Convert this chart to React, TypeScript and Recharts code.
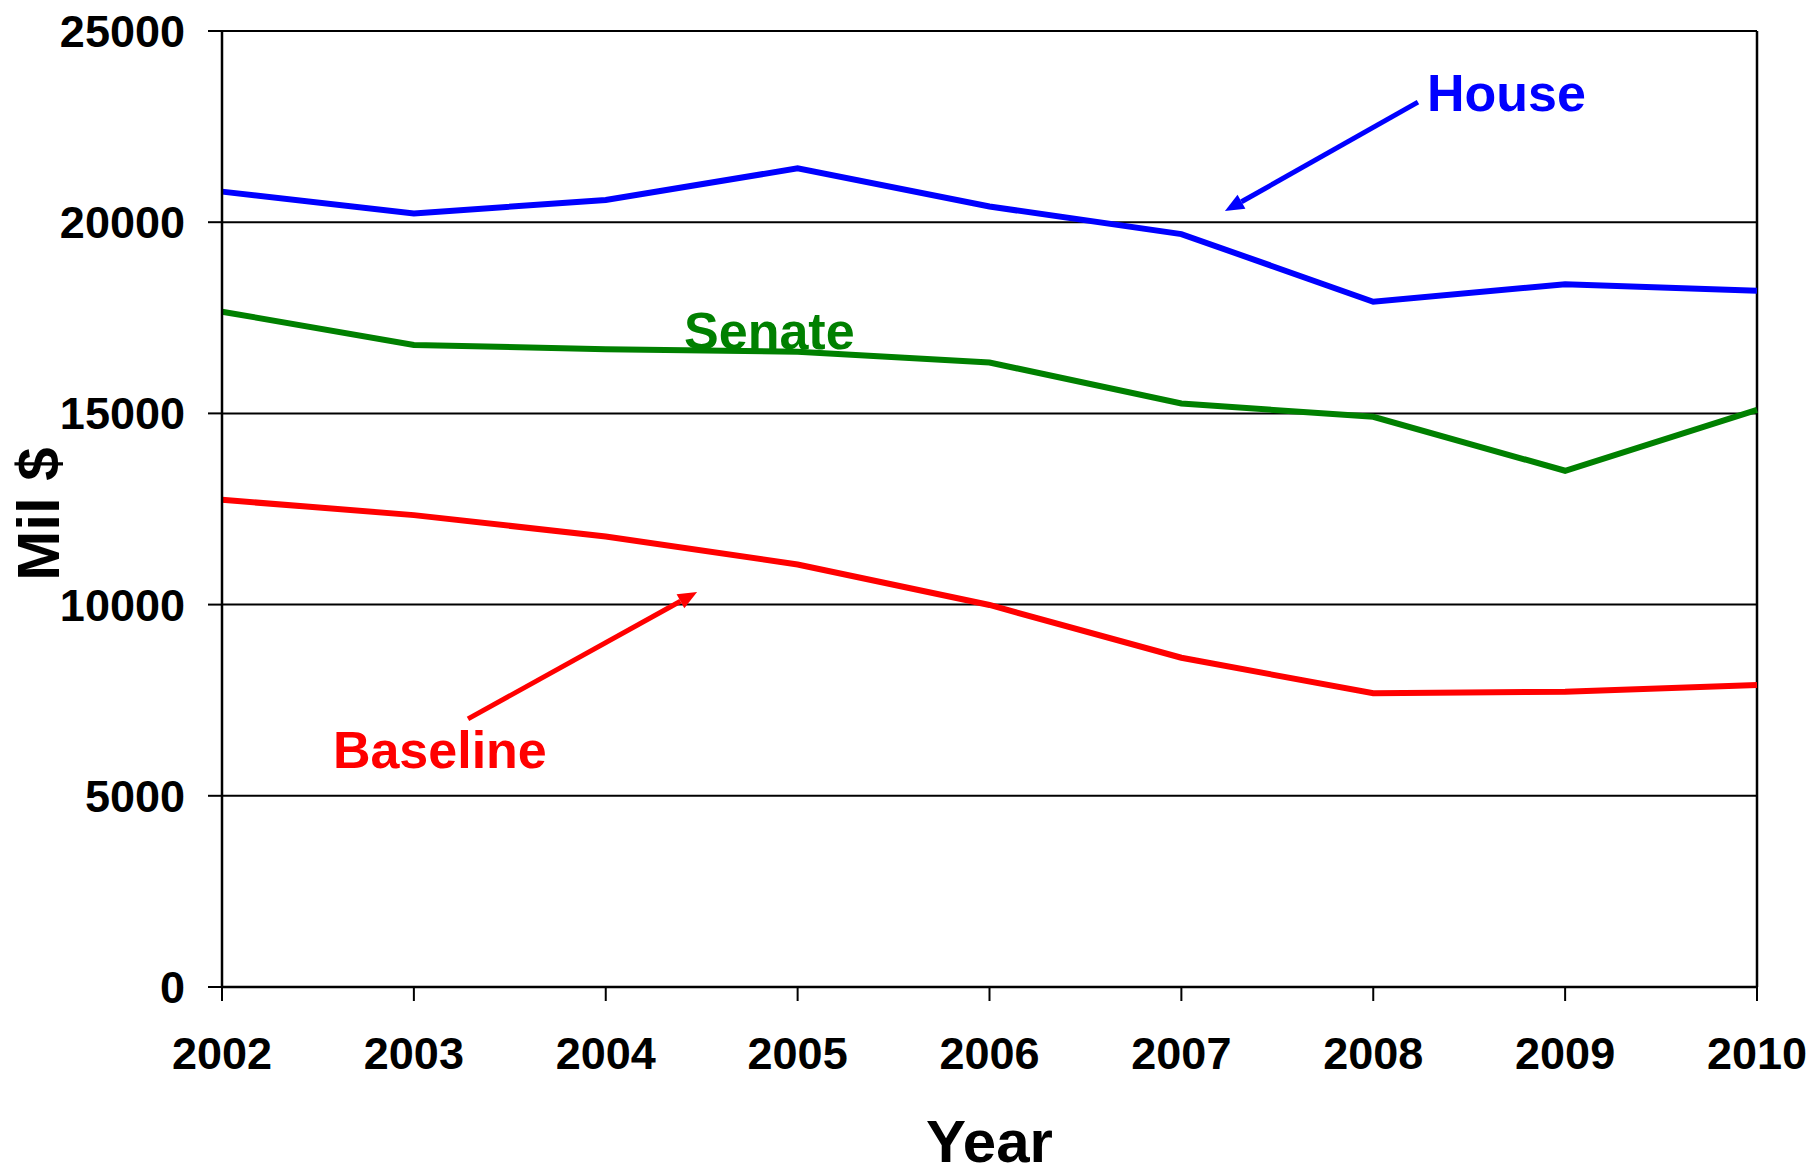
import React from "react";
import {
  CartesianGrid,
  Label,
  Line,
  LineChart,
  ReferenceDot,
  ReferenceLine,
  XAxis,
  YAxis,
} from "recharts";

const years = [2002, 2003, 2004, 2005, 2006, 2007, 2008, 2009, 2010];
const house = [20800, 20230, 20580, 21410, 20410, 19690, 17920, 18380, 18210];
const senate = [17660, 16790, 16680, 16610, 16330, 15260, 14910, 13500, 15090];
const baseline = [12740, 12340, 11780, 11050, 9990, 8610, 7680, 7720, 7900];
const yTicks = [0, 5000, 10000, 15000, 20000, 25000];

const FONT = "'Liberation Sans', Arial, Helvetica, sans-serif";
const BLUE = "#0000ff";
const GREEN = "#008000";
const RED = "#ff0000";

const data = years.map((year, i) => ({
  year,
  house: house[i],
  senate: senate[i],
  baseline: baseline[i],
}));

const tickStyle = { fontSize: 45, fontWeight: "bold", fill: "#000", fontFamily: FONT };

// arrow drawn between the two ends of a reference segment
const arrowShape = (color: string) => (props: any) => {
  const { x1, y1, x2, y2 } = props;
  if ([x1, y1, x2, y2].some((v) => typeof v !== "number")) return <g />;
  const ang = Math.atan2(y2 - y1, x2 - x1);
  const len = 19;
  const half = 8;
  const bx = x2 - len * Math.cos(ang);
  const by = y2 - len * Math.sin(ang);
  const px = -Math.sin(ang) * half;
  const py = Math.cos(ang) * half;
  return (
    <g>
      <line x1={x1} y1={y1} x2={bx} y2={by} stroke={color} strokeWidth={5} />
      <polygon
        points={`${x2},${y2} ${bx + px},${by + py} ${bx - px},${by - py}`}
        fill={color}
      />
    </g>
  );
};

const textShape = (text: string, color: string) => (props: any) => (
  <text
    x={props.cx}
    y={props.cy}
    fill={color}
    fontSize={52}
    fontWeight="bold"
    fontFamily={FONT}
    textAnchor="start"
  >
    {text}
  </text>
);

export default function App() {
  return (
    <div style={{ position: "absolute", left: 0, top: 0, width: 1814, height: 1176, background: "#fff" }}>
      <LineChart
        width={1814}
        height={1176}
        data={data}
        margin={{ top: 31, right: 57, bottom: 0, left: 0 }}
      >
        <CartesianGrid vertical={false} stroke="#000" strokeWidth={2} />
        <XAxis
          dataKey="year"
          type="number"
          domain={[2002, 2010]}
          ticks={years}
          interval={0}
          height={189}
          tickSize={14}
          tickMargin={36}
          tick={tickStyle}
          axisLine={{ stroke: "#000", strokeWidth: 2.5 }}
          tickLine={{ stroke: "#000", strokeWidth: 2 }}
        >
          <Label
            value="Year"
            position="insideBottom"
            offset={14}
            style={{ fontSize: 60, fontWeight: "bold", fill: "#000", fontFamily: FONT }}
          />
        </XAxis>
        <YAxis
          domain={[0, 25000]}
          ticks={yTicks}
          interval={0}
          width={222}
          tickSize={14}
          tickMargin={23}
          tick={tickStyle}
          axisLine={{ stroke: "#000", strokeWidth: 2.5 }}
          tickLine={{ stroke: "#000", strokeWidth: 2 }}
        >
          <Label
            content={(p: any) => {
              const vb = p.viewBox || { x: 0, y: 31, width: 222, height: 956 };
              const cx = vb.x + 38;
              const cy = vb.y + vb.height / 2 + 5;
              return (
                <text
                  x={cx}
                  y={cy}
                  dy="0.355em"
                  transform={`rotate(-90, ${cx}, ${cy})`}
                  textAnchor="middle"
                  fontSize={60}
                  fontWeight="bold"
                  fontFamily={FONT}
                  fill="#000"
                >
                  Mil $
                </text>
              );
            }}
          />
        </YAxis>
        <ReferenceLine x={2010} stroke="#000" strokeWidth={2.5} />
        <Line
          dataKey="house"
          stroke={BLUE}
          strokeWidth={6}
          dot={false}
          activeDot={false}
          isAnimationActive={false}
        />
        <Line
          dataKey="senate"
          stroke={GREEN}
          strokeWidth={6}
          dot={false}
          activeDot={false}
          isAnimationActive={false}
        />
        <Line
          dataKey="baseline"
          stroke={RED}
          strokeWidth={6}
          dot={false}
          activeDot={false}
          isAnimationActive={false}
        />
        <ReferenceLine
          segment={[
            { x: 2008.233, y: 23140 },
            { x: 2007.227, y: 20290 },
          ]}
          shape={arrowShape(BLUE)}
        />
        <ReferenceLine
          segment={[
            { x: 2003.282, y: 7010 },
            { x: 2004.476, y: 10330 },
          ]}
          shape={arrowShape(RED)}
        />
        <ReferenceDot x={2008.28} y={22910} r={0} shape={textShape("House", BLUE)} />
        <ReferenceDot x={2004.408} y={16680} r={0} shape={textShape("Senate", GREEN)} />
        <ReferenceDot x={2002.578} y={5730} r={0} shape={textShape("Baseline", RED)} />
      </LineChart>
    </div>
  );
}
